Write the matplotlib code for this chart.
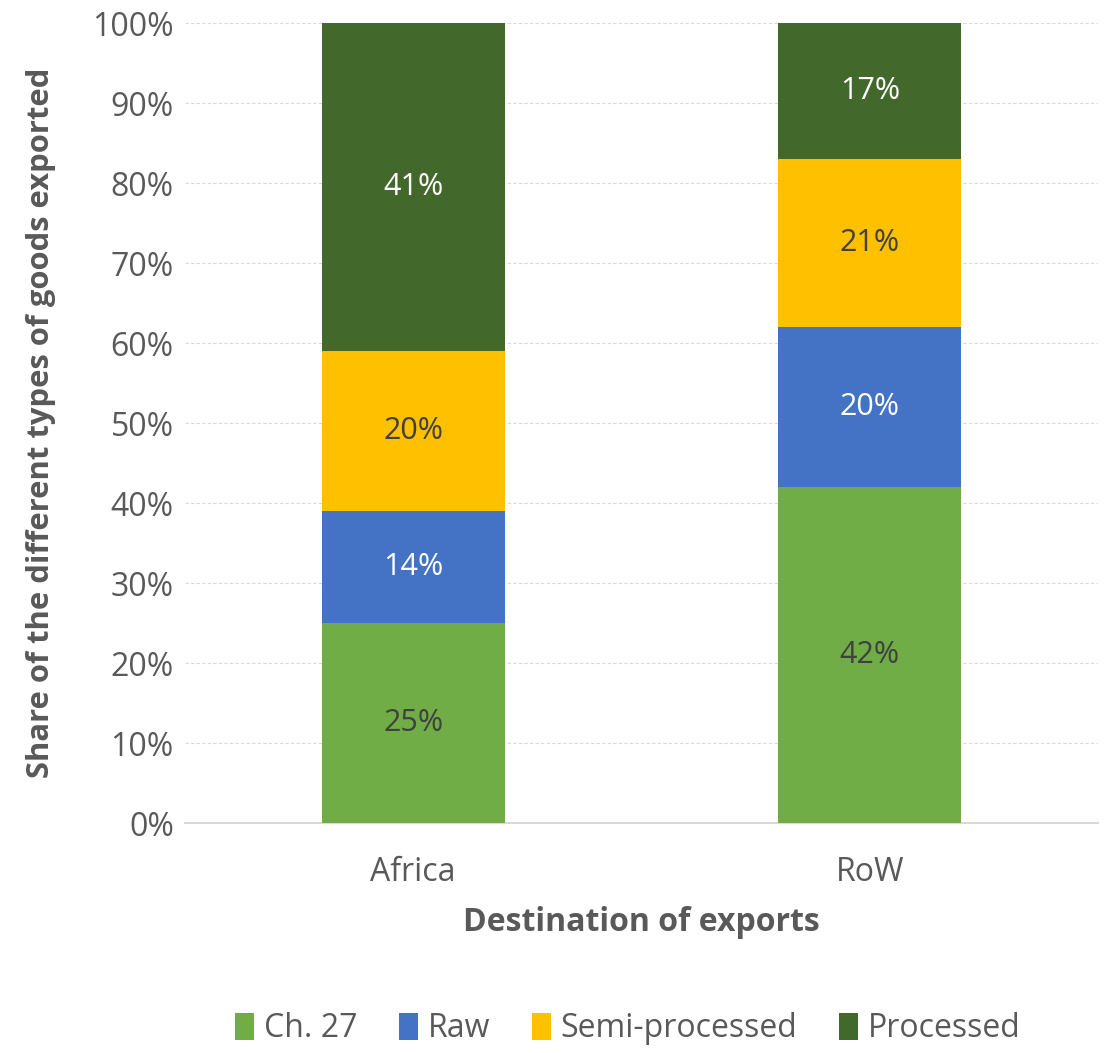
import numpy as np
import matplotlib.pyplot as plt

plt.rcParams['font.family'] = ['Open Sans', 'DejaVu Sans']

destinations = ['Africa', 'RoW']
series_names = ['Ch. 27', 'Raw', 'Semi-processed', 'Processed']
ch27 = [25, 42]
raw = [14, 20]
semi = [20, 21]
processed = [41, 17]

colors = ['#70AD47', '#4472C4', '#FFC000', '#43682B']
label_colors = ['#404040', '#FFFFFF', '#404040', '#FFFFFF']
grey = '#595959'

fig = plt.figure(figsize=(11.07, 10.53), dpi=100)
ax = fig.add_axes([0.167, 0.2184, 0.825, 0.7596])

x = np.arange(len(destinations))
bottom = np.zeros(len(destinations))
for vals, name, c, lc in zip([ch27, raw, semi, processed], series_names, colors, label_colors):
    vals = np.array(vals, dtype=float)
    ax.bar(x, vals, 0.4, bottom=bottom, color=c, label=name, zorder=3)
    for xi, b, v in zip(x, bottom, vals):
        ax.text(xi, b + v / 2, f'{v:.0f}%', ha='center', va='center',
                fontsize=22, color=lc, zorder=4)
    bottom += vals

ax.set_xlim(-0.5, 1.5)
ax.set_ylim(0, 100)
ax.set_yticks(np.arange(0, 101, 10))
ax.set_yticklabels([f'{t}%' for t in range(0, 101, 10)])
ax.set_xticks(x)
ax.set_xticklabels(destinations)
ax.tick_params(axis='both', length=0, labelsize=23, colors=grey)
ax.tick_params(axis='x', pad=24)
ax.tick_params(axis='y', pad=8)
ax.yaxis.grid(True, color='#D9D9D9', linestyle=(0, (3, 2)), linewidth=0.8, zorder=0)

for s in ['top', 'right', 'left']:
    ax.spines[s].set_visible(False)
ax.spines['bottom'].set_color('#D9D9D9')
ax.spines['bottom'].set_linewidth(1.5)

ax.set_xlabel('Destination of exports', fontsize=23, fontweight='bold', color=grey, labelpad=12)
ax.set_ylabel('Share of the different types of goods exported', fontsize=22.3,
              fontweight='bold', color=grey, labelpad=26)

fig.legend(loc='lower center', bbox_to_anchor=(0.567, -0.02), ncol=4, frameon=False,
           fontsize=23, labelcolor=grey, handlelength=0.6, handleheight=0.9,
           handletextpad=0.3, columnspacing=1.3)

fig.savefig('out.png', dpi=100)
